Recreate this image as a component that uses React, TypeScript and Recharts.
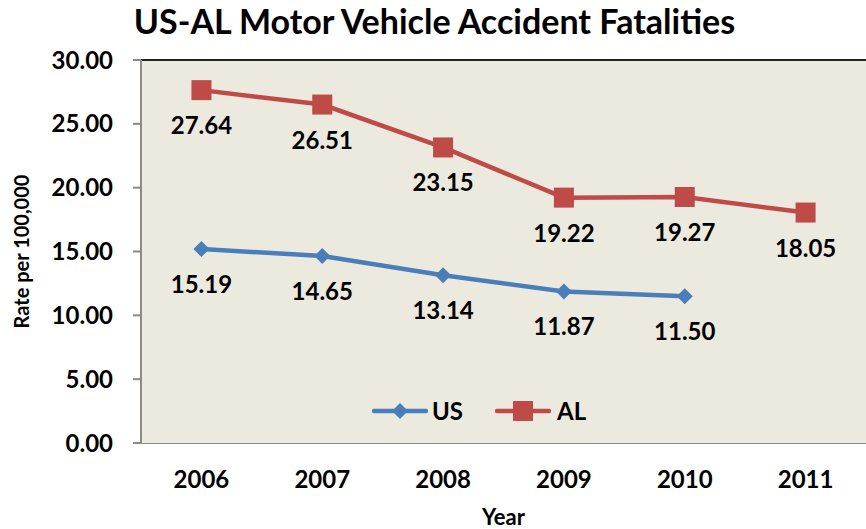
import { LineChart, Line, XAxis, YAxis, CartesianGrid, LabelList } from 'recharts'

const years = [2006, 2007, 2008, 2009, 2010, 2011]
const usRates = [15.19, 14.65, 13.14, 11.87, 11.5, null]
const alRates = [27.64, 26.51, 23.15, 19.22, 19.27, 18.05]
const yTicks = [0, 5, 10, 15, 20, 25, 30]
const bandEdges = [2005.5, 2006.5, 2007.5, 2008.5, 2009.5, 2010.5, 2011.5]

const data = years.map((y, i) => ({ year: y, US: usRates[i], AL: alRates[i] }))

const BLUE = '#4A7EBB'
const RED = '#BE4B48'
const GRID = '#8A8A8A'
const FONT = 'Lato, "Liberation Sans", sans-serif'

const Square = (props: any) => {
  const { cx, cy, key } = props
  if (cx == null || cy == null) return <g key={key} />
  return <rect key={key} x={cx - 10} y={cy - 10} width={20} height={20} fill={RED} />
}

const Diamond = (props: any) => {
  const { cx, cy, key, value } = props
  if (cx == null || cy == null || value == null) return <g key={key} />
  return <polygon key={key} points={`${cx},${cy - 8} ${cx + 8},${cy} ${cx},${cy + 8} ${cx - 8},${cy}`} fill={BLUE} />
}

const LegendBox = () => (
  <div
    style={{
      position: 'absolute', top: 396, left: 372, display: 'flex', alignItems: 'center', gap: 32,
      fontFamily: FONT, fontWeight: 700, fontSize: 24, color: '#000'
    }}
  >
    <div style={{ display: 'flex', alignItems: 'center', gap: 4 }}>
      <svg width={56} height={20}>
        <line x1={2} y1={10} x2={54} y2={10} stroke={BLUE} strokeWidth={4.5} strokeLinecap="round" />
        <polygon points="28,2 36,10 28,18 20,10" fill={BLUE} />
      </svg>
      <span>US</span>
    </div>
    <div style={{ display: 'flex', alignItems: 'center', gap: 6 }}>
      <svg width={56} height={20}>
        <line x1={2} y1={10} x2={54} y2={10} stroke={RED} strokeWidth={4.5} strokeLinecap="round" />
        <rect x={18} y={0} width={20} height={20} fill={RED} />
      </svg>
      <span>AL</span>
    </div>
  </div>
)

export default function App() {
  return (
    <div style={{ position: 'relative', width: 866, height: 529, background: '#fff' }}>
      <style>{'body { margin: 0; }'}</style>
      <div
        style={{
          position: 'absolute', top: 0, left: 0, width: 866, paddingLeft: 3, boxSizing: 'border-box',
          textAlign: 'center', fontFamily: FONT, fontWeight: 700, fontSize: 34, color: '#000'
        }}
      >
        US-AL Motor Vehicle Accident Fatalities
      </div>
      <LineChart width={866} height={529} data={data} margin={{ top: 60, right: 0, bottom: 0, left: 0 }}>
        <rect x={141} y={60} width={725} height={383} fill="#ECE9DF" />
        <CartesianGrid vertical={false} stroke={GRID} strokeWidth={2} />
        <XAxis
          xAxisId="edges"
          dataKey="year"
          type="number"
          domain={[2005.5, 2011.5]}
          ticks={bandEdges}
          tick={false}
          tickSize={8}
          tickLine={{ stroke: GRID, strokeWidth: 2 }}
          axisLine={{ stroke: GRID, strokeWidth: 2 }}
          height={0}
        />
        <XAxis
          dataKey="year"
          type="number"
          domain={[2005.5, 2011.5]}
          ticks={years}
          tickLine={false}
          axisLine={false}
          height={86}
          tickMargin={22}
          tick={{ fontFamily: FONT, fontWeight: 700, fontSize: 24, fill: '#000' }}
          label={{ value: 'Year', position: 'insideBottom', offset: 4, fontFamily: FONT, fontWeight: 700, fontSize: 22, fill: '#000' }}
        />
        <YAxis
          domain={[0, 30]}
          ticks={yTicks}
          width={141}
          tickSize={8}
          tickMargin={20}
          tickFormatter={(v: number) => v.toFixed(2)}
          tickLine={{ stroke: GRID, strokeWidth: 2 }}
          axisLine={{ stroke: GRID, strokeWidth: 2 }}
          tick={{ fontFamily: FONT, fontWeight: 700, fontSize: 24, fill: '#000' }}
          label={{ value: 'Rate per 100,000', angle: -90, position: 'insideLeft', offset: 22, textAnchor: 'middle', fontFamily: FONT, fontWeight: 700, fontSize: 20, fill: '#000' }}
        />
        <line x1={141} y1={60} x2={866} y2={60} stroke="#222" strokeWidth={2} />
        <Line
          dataKey="US"
          xAxisId={0}
          stroke={BLUE}
          strokeWidth={4.5}
          dot={<Diamond />}
          activeDot={false}
          isAnimationActive={false}
          connectNulls={false}
        >
          <LabelList
            dataKey="US"
            position="bottom"
            offset={27}
            formatter={(v: any) => (v == null ? '' : Number(v).toFixed(2))}
            style={{ fontFamily: FONT, fontWeight: 700, fontSize: 24, fill: '#000' }}
          />
        </Line>
        <Line
          dataKey="AL"
          xAxisId={0}
          stroke={RED}
          strokeWidth={4.5}
          dot={<Square />}
          activeDot={false}
          isAnimationActive={false}
        >
          <LabelList
            dataKey="AL"
            position="bottom"
            offset={27}
            formatter={(v: any) => Number(v).toFixed(2)}
            style={{ fontFamily: FONT, fontWeight: 700, fontSize: 24, fill: '#000' }}
          />
        </Line>
      </LineChart>
      <LegendBox />
    </div>
  )
}
